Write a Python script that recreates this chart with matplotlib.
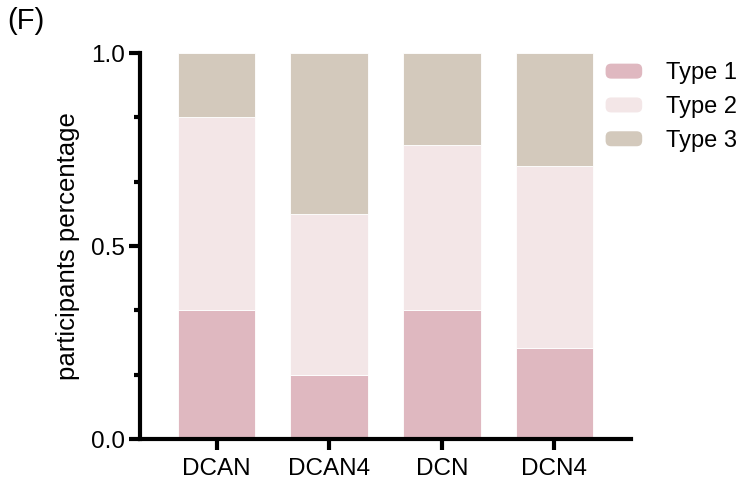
import matplotlib
matplotlib.use("Agg")
import matplotlib.pyplot as plt
import matplotlib.patches as mpatches
from matplotlib.legend_handler import HandlerPatch
import numpy as np

plt.rcParams['font.family'] = ['Liberation Sans', 'DejaVu Sans']

# Share of participants per pattern type in each group
groups = ['DCAN', 'DCAN4', 'DCN', 'DCN4']
type1 = [0.333, 0.167, 0.333, 0.235]
type2 = [0.500, 0.417, 0.429, 0.471]
type3 = [0.167, 0.416, 0.238, 0.294]
type_labels = ['Type 1', 'Type 2', 'Type 3']
type_colors = ['#dfb8c0', '#f3e6e7', '#d3c9bc']


class RoundedHandler(HandlerPatch):
    # legend swatch with rounded corners
    def create_artists(self, legend, orig_handle, xdescent, ydescent,
                       width, height, fontsize, trans):
        box = mpatches.FancyBboxPatch(
            (-xdescent, -ydescent), width, height,
            boxstyle="round,pad=0,rounding_size=4",
            facecolor=orig_handle.get_facecolor(), edgecolor='none',
            transform=trans)
        return [box]


fig = plt.figure(figsize=(7.48, 4.82), dpi=100)
ax = fig.add_axes([0.1872, 0.0892, 0.6564, 0.8008])

x = np.arange(len(groups))
width = 0.69
bottom = np.zeros(len(groups))
handles = []
for vals, lab, col in zip([type1, type2, type3], type_labels, type_colors):
    ax.bar(x, vals, width, bottom=bottom, color=col, edgecolor='white',
           linewidth=0.6, label=lab)
    bottom += np.array(vals)
    handles.append(mpatches.Patch(facecolor=col, label=lab))

ax.set_xlim(-0.68, 3.68)
ax.set_ylim(0, 1.0)
ax.set_xticks(x)
ax.set_xticklabels(groups, fontsize=17.5)
ax.set_yticks([0.0, 0.5, 1.0])
ax.set_yticklabels(['0.0', '0.5', '1.0'], fontsize=17.5)
ax.set_yticks([1/6, 2/6, 4/6, 5/6], minor=True)
ax.set_ylabel('participants percentage', fontsize=18.5, labelpad=8)

for side in ['top', 'right']:
    ax.spines[side].set_visible(False)
for side in ['left', 'bottom']:
    ax.spines[side].set_linewidth(3)
    ax.spines[side].set_capstyle('projecting')
ax.tick_params(axis='y', which='major', width=3, length=8, pad=3)
ax.tick_params(axis='x', which='major', width=3, length=8, pad=6)
ax.tick_params(axis='y', which='minor', width=3, length=4)

fig.legend(handles=handles, loc='upper left', bbox_to_anchor=(0.797, 0.89),
           borderaxespad=0, frameon=False, fontsize=17,
           handler_map={mpatches.Patch: RoundedHandler()},
           handlelength=1.55, handleheight=0.6, handletextpad=1.0, labelspacing=0.5)

fig.text(0.01, 0.985, '(F)', fontsize=21, va='top', ha='left')

fig.savefig('out.png', dpi=100)
